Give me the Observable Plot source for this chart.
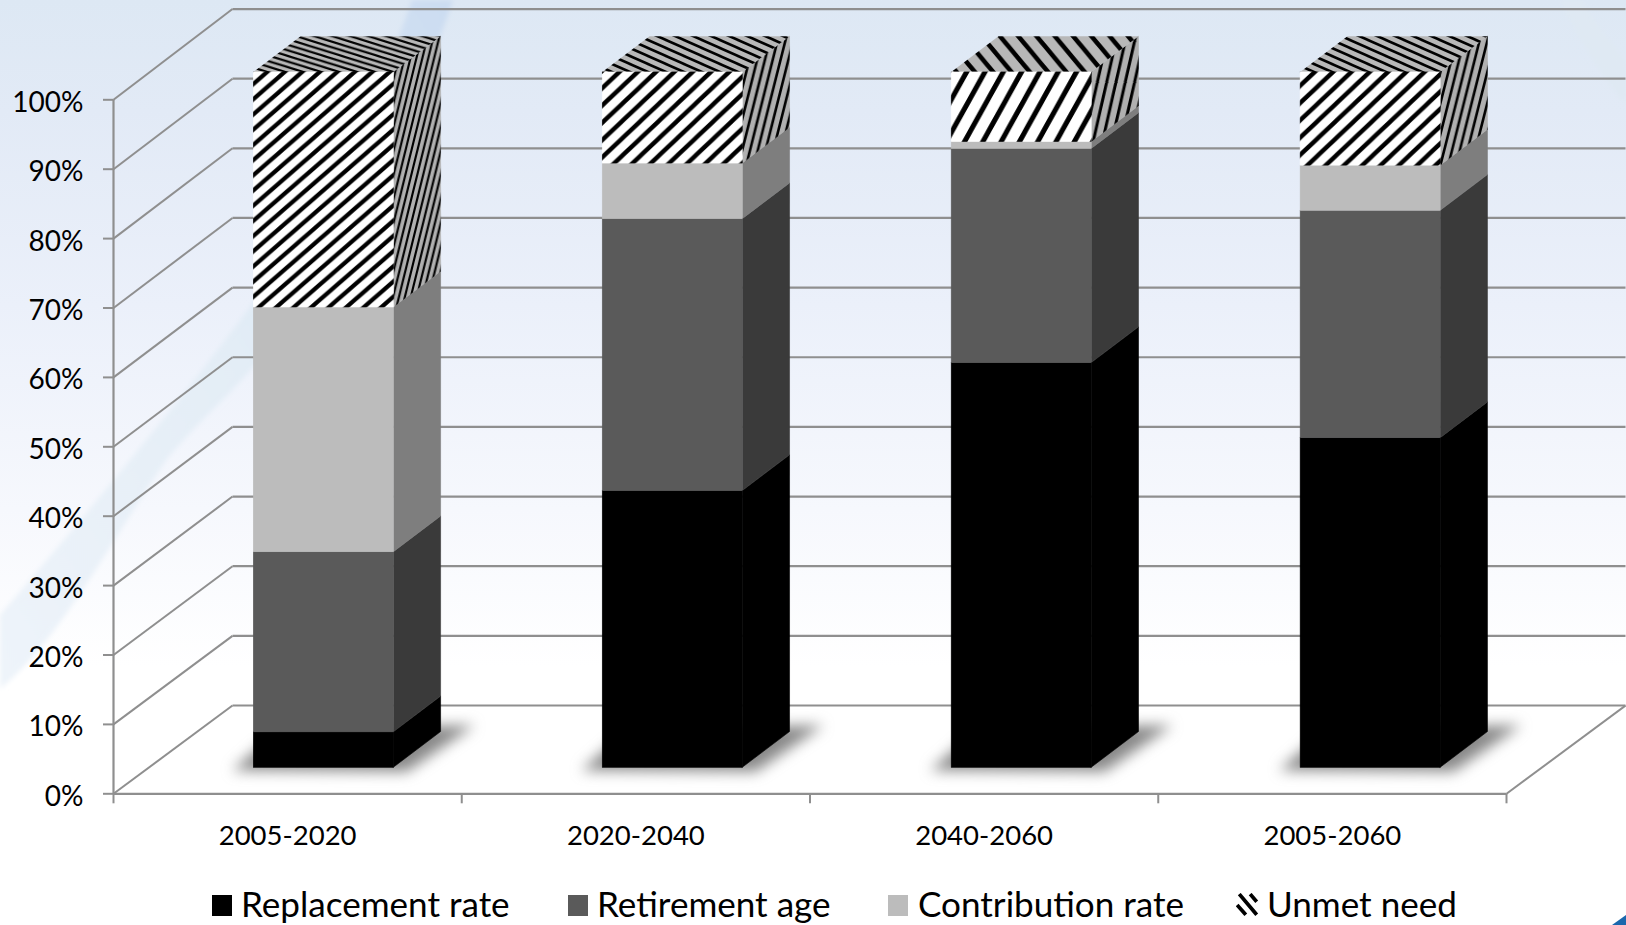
<!DOCTYPE html>
<html>
<head>
<meta charset="utf-8">
<script src="https://cdn.jsdelivr.net/npm/d3@7"></script>
<script src="https://cdn.jsdelivr.net/npm/@observablehq/plot@0.6"></script>
<style>
  html, body { margin: 0; padding: 0; }
  body { width: 1626px; height: 925px; overflow: hidden; position: relative; font-family: Lato, sans-serif; color: #000; background: #fff; }
  #backdrop { position: absolute; left: 0; top: 0; }
  #chart { position: absolute; left: 0; top: 0; }
  #chart svg { background: transparent; display: block; }
  #legend { position: absolute; left: 0; top: 870px; width: 1626px; height: 55px; font-size: 35.1px; }
  .item { position: absolute; top: 0; height: 55px; line-height: 67px; white-space: nowrap; }
  .item .swatch { position: absolute; left: 0; top: 25px; width: 20px; height: 21px; }
  .item .label { position: absolute; top: 0; }
  .item:nth-child(1) { left: 212px; } .item:nth-child(1) .label { left: 29px; }
  .item:nth-child(2) { left: 568px; } .item:nth-child(2) .label { left: 29px; }
  .item:nth-child(3) { left: 888px; } .item:nth-child(3) .label { left: 30px; }
  .item:nth-child(4) { left: 1238px; } .item:nth-child(4) .label { left: 29px; }
</style>
</head>
<body>
<!-- slide backdrop: soft blue wash with pale swooshes -->
<svg id="backdrop" width="1626" height="925">
  <defs>
    <linearGradient id="wash" x1="0" y1="0" x2="0" y2="1">
      <stop offset="0" stop-color="#dde8f4"/>
      <stop offset="0.12" stop-color="#e2eaf6"/>
      <stop offset="0.33" stop-color="#ebf0fa"/>
      <stop offset="0.55" stop-color="#f6f8fd"/>
      <stop offset="0.72" stop-color="#ffffff"/>
      <stop offset="1" stop-color="#ffffff"/>
    </linearGradient>
    <linearGradient id="swoosh" x1="1" y1="0" x2="0" y2="1">
      <stop offset="0" stop-color="#cbdcf1"/>
      <stop offset="0.5" stop-color="#e3edf6"/>
      <stop offset="1" stop-color="#eef4fa"/>
    </linearGradient>
    <filter id="soft"><feGaussianBlur stdDeviation="2.5"/></filter>
  </defs>
  <rect width="1626" height="925" fill="url(#wash)"/>
  <path d="M412 0 C375 110 325 190 253 303 C200 375 110 487 0 615 L0 689 C60 640 110 542 167 459 C200 420 230 395 253 367 C330 270 410 130 453 0 Z" fill="url(#swoosh)" filter="url(#soft)"/>
  <path d="M1560 0 C1580 40 1600 75 1626 105 L1626 62 C1610 40 1592 20 1582 0 Z" fill="#dfe9f3" filter="url(#soft)"/>
  <path d="M1626 915 L1626 925 L1612 925 Z" fill="#1a67ad"/>
</svg>
<div id="chart"></div>
<div id="legend"></div>
<script>
// Share of the adjustment by period, in percent
const categories = ["2005-2020", "2020-2040", "2040-2060", "2005-2060"];
const seriesNames = ["Replacement rate", "Retirement age", "Contribution rate", "Unmet need"];
const replacement = [5.1, 39.8, 58.2, 47.4];
const retirement = [25.9, 39.1, 30.8, 32.7];
const contribution = [35.2, 8.0, 1.0, 6.5];
const unmet = [33.8, 13.1, 10.0, 13.4];
const yTicks = [0, 10, 20, 30, 40, 50, 60, 70, 80, 90, 100];
const xTicks = [0, 1, 2, 3, 4];

const seriesValues = [replacement, retirement, contribution, unmet];

// Oblique projection of the chart box: how far the back wall and the bar
// faces sit from the front plane, in data units of each scale.
const wallDx = 0.3417;
const wallY = (v) => v * 1.0036 + 12.72;
const barFrontY = (v) => v * 1.0019 + 3.75;
const barDx = 0.1358;
const barDy = 5.15;
const barStart = (i) => i * 1.002 + 0.4029;
const barWidth = 0.402;

// Stripe tiles per bar; the texture stretches with the height of the block.
const stripe = [
  { front: [17.5, 15.2, 4.2], top: [18, 5.6, 2.1], side: [5.9, 24, 2.1] },
  { front: [18.3, 17.3, 4.4], top: [18, 8, 2.6], side: [7.8, 31, 2.6] },
  { front: [18.3, 33, 5], top: [18.3, 22, 4.6], side: [9.3, 41, 3] },
  { front: [18.3, 17.3, 4.4], top: [18, 8, 2.6], side: [7.8, 31, 2.6] }
];

const solidFront = ["#000000", "#5a5a5a", "#bcbcbc"];
const solidSide = ["#000000", "#3a3a3a", "#7e7e7e"];

function tile(id, [w, h, sw], ground, backslash) {
  const line = backslash
    ? `M${-w / 2} ${h / 2}L${w / 2} ${3 * h / 2}M0 0L${w} ${h}M${w / 2} ${-h / 2}L${3 * w / 2} ${h / 2}`
    : `M${-w / 2} ${h / 2}L${w / 2} ${-h / 2}M0 ${h}L${w} 0M${w / 2} ${3 * h / 2}L${3 * w / 2} ${h / 2}`;
  return `<pattern id="${id}" patternUnits="userSpaceOnUse" width="${w}" height="${h}">` +
    `<rect width="${w}" height="${h}" fill="${ground}"/>` +
    `<path d="${line}" stroke="#000" stroke-width="${sw}" fill="none"/></pattern>`;
}

const defsMark = () => {
  const g = document.createElementNS("http://www.w3.org/2000/svg", "defs");
  g.innerHTML = stripe.map((s, i) =>
    tile(`front${i}`, s.front, "#ffffff", false) +
    tile(`top${i}`, s.top, "#b8b8b8", true) +
    tile(`side${i}`, s.side, "#b0b0b0", false)
  ).join("");
  return g;
};

// Stacked blocks, with cumulative bounds
const blocks = [];
categories.forEach((category, i) => {
  let base = 0;
  seriesValues.forEach((values, s) => {
    blocks.push({ category, i, s, low: base, high: base + values[i] });
    base += values[i];
  });
});

const fronts = blocks.map((b) => ({
  x1: barStart(b.i), x2: barStart(b.i) + barWidth,
  y1: barFrontY(b.low), y2: barFrontY(b.high),
  fill: b.s === 3 ? `url(#front${b.i})` : solidFront[b.s]
}));

// Each parallelogram is an area between two edges
const sides = blocks.flatMap((b, n) => {
  const x = barStart(b.i) + barWidth;
  const fill = b.s === 3 ? `url(#side${b.i})` : solidSide[b.s];
  return [
    { id: n, x1: x, x2: x, y1: barFrontY(b.low), y2: barFrontY(b.high), fill },
    { id: n, x1: x + barDx, x2: x + barDx, y1: barFrontY(b.low) + barDy, y2: barFrontY(b.high) + barDy, fill }
  ];
});

const tops = categories.flatMap((c, i) => {
  const x = barStart(i);
  const y = barFrontY(100);
  return [
    { id: i, x1: x, x2: x + barDx, y1: y, y2: y + barDy, fill: `url(#top${i})` },
    { id: i, x1: x + barWidth, x2: x + barWidth + barDx, y1: y, y2: y + barDy, fill: `url(#top${i})` }
  ];
});

const shadows = categories.flatMap((c, i) => {
  const x = barStart(i);
  return [
    { id: i, x1: x - 0.06, x2: x + 0.08, y1: 3.3, y2: 9.4 },
    { id: i, x1: x + 0.44, x2: x + 0.635, y1: 3.1, y2: 9.8 }
  ];
});

const lineColor = "#8f8f8f";

const chart = Plot.plot({
  width: 1626,
  height: 870,
  marginLeft: 113,
  marginRight: 120,
  marginTop: 99.3,
  marginBottom: 76.7,
  style: { background: "transparent", fontFamily: "Lato, sans-serif", overflow: "visible" },
  x: { domain: [0, 4], axis: null },
  y: { domain: [0, 100], axis: null },
  color: { type: "identity" },
  marks: [
    defsMark,
    // Side wall slants and back wall gridlines
    Plot.link(yTicks, { x1: 0, y1: (d) => d, x2: wallDx, y2: wallY, stroke: lineColor, strokeWidth: 2 }),
    Plot.link(yTicks, { x1: wallDx, y1: wallY, x2: 4 + wallDx, y2: wallY, stroke: lineColor, strokeWidth: 2.2 }),
    // Right edge of the floor
    Plot.link([0], { x1: 4, y1: 0, x2: 4 + wallDx, y2: wallY, stroke: lineColor, strokeWidth: 2 }),
    // Axis lines, ticks and labels
    Plot.ruleX([0], { y1: 0, y2: 100, stroke: lineColor, strokeWidth: 2.2 }),
    Plot.ruleY([0], { x1: 0, x2: 4, stroke: lineColor, strokeWidth: 2.2 }),
    Plot.axisY(yTicks, {
      anchor: "left", tickSize: 10, stroke: lineColor, strokeWidth: 2,
      tickFormat: () => "", label: null
    }),
    Plot.axisX(xTicks, {
      anchor: "bottom", tickSize: 10, stroke: lineColor, strokeWidth: 2,
      tickFormat: () => "", label: null
    }),
    Plot.text(yTicks, {
      x: 0, y: (d) => d, dx: -30, dy: 3, text: (d) => `${d}%`,
      fontSize: 28, fill: "#000", textAnchor: "end"
    }),
    Plot.text(categories, {
      x: (d, i) => i + 0.5, y: 0, dy: 42, text: (d) => d,
      fontSize: 27.5, fill: "#000", textAnchor: "middle"
    }),
    // Floor shadows under the bars
    Plot.area(shadows, { x1: "x1", y1: "y1", x2: "x2", y2: "y2", z: "id", fill: "#6a6a6a", fillOpacity: 0.8, imageFilter: "blur(7px)" }),
    // Bars: side, top, then front faces
    Plot.area(sides, { x1: "x1", y1: "y1", x2: "x2", y2: "y2", z: "id", fill: "fill", stroke: "fill", strokeWidth: 0.6 }),
    Plot.area(tops, { x1: "x1", y1: "y1", x2: "x2", y2: "y2", z: "id", fill: "fill" }),
    Plot.rect(fronts, { x1: "x1", x2: "x2", y1: "y1", y2: "y2", fill: "fill", stroke: "fill", strokeWidth: 0.6 })
  ]
});
document.getElementById("chart").appendChild(chart);

// Legend row below the plot
const swatches = solidFront.map((c) => `<span class="swatch" style="background:${c}"></span>`);
swatches.push(`<svg class="swatch" style="left:-2px;top:23px;width:24px;height:24px" viewBox="0 0 22 22"><path d="M3 1L19 20M1 11L9 20M13 1L19 8" stroke="#000" stroke-width="3.4" fill="none"/></svg>`);
document.getElementById("legend").innerHTML = seriesNames.map((name, i) =>
  `<div class="item">${swatches[i]}<span class="label">${name}</span></div>`
).join("");
</script>
</body>
</html>
